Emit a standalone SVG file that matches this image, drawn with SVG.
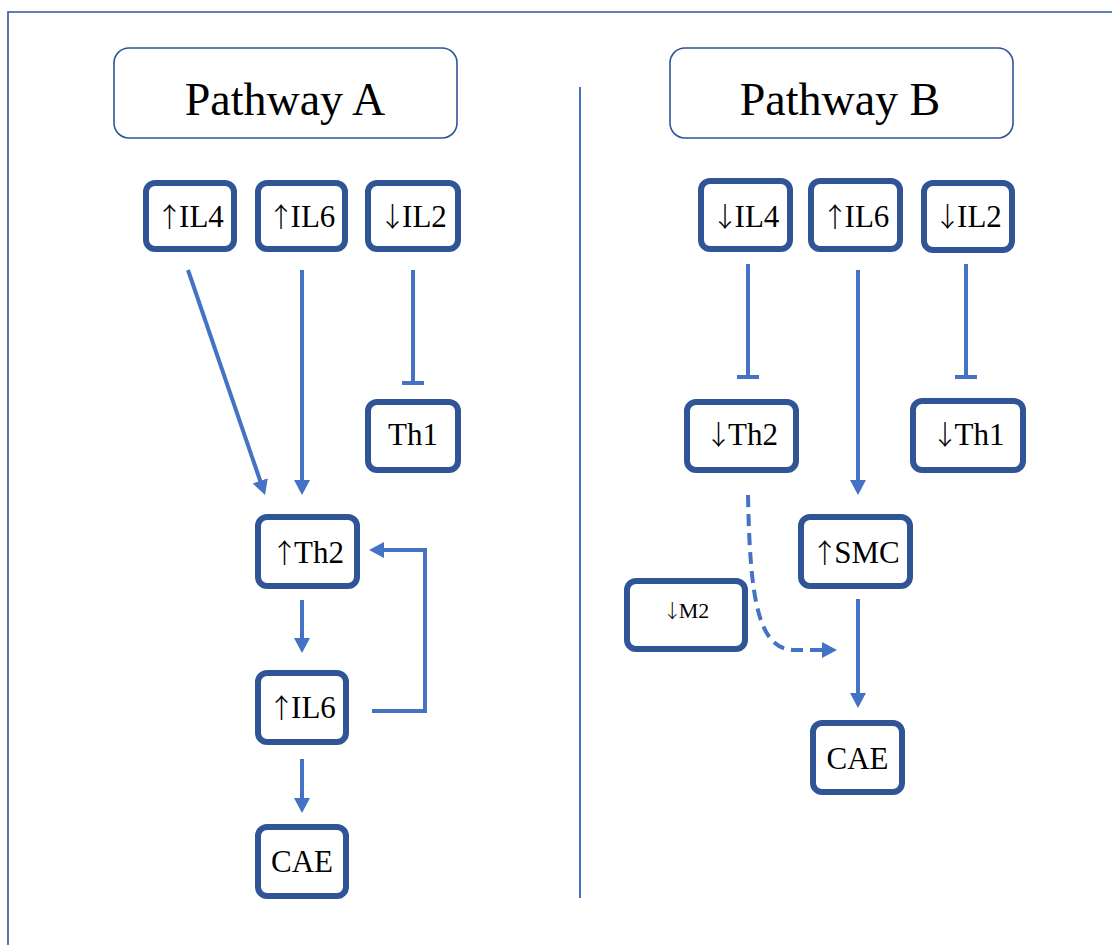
<svg xmlns="http://www.w3.org/2000/svg" width="1112" height="945" viewBox="0 0 1112 945">
<style>
.title{fill:#fff;stroke:#2f5597;stroke-width:1.6}
.tt{font-family:"Liberation Serif","Times New Roman",serif;font-size:46px;fill:#000;text-anchor:middle}
.node{fill:#fff;stroke:#2f5597;stroke-width:6}
.nt{font-family:"Liberation Serif","Times New Roman",serif;font-size:31px;fill:#000;text-anchor:middle}
.ar{font-family:"Noto Sans CJK SC","Noto Sans CJK JP",sans-serif;font-size:27px;font-weight:300;letter-spacing:-4px}
.sm{font-size:22px}
.sm .ar{font-size:19px;letter-spacing:-3px}
.ln{fill:none;stroke:#4472c4;stroke-width:4}
.arr{marker-end:url(#ah)}
.dash{stroke-dasharray:12 7}
</style>
<defs>
<marker id="ah" markerUnits="userSpaceOnUse" viewBox="0 0 15 16" refX="5" refY="8" markerWidth="15" markerHeight="16" orient="auto">
<path d="M0,0 L15,8 L0,16 z" fill="#4472c4"/>
</marker>
</defs>
<rect width="1112" height="945" fill="#fff"/>
<path d="M8,945 V12 H1112" fill="none" stroke="#2f5597" stroke-width="1.6"/>
<line x1="580" y1="87" x2="580" y2="898" stroke="#4472c4" stroke-width="2"/>

<g id="titleA"><rect class="title" x="114" y="48" width="343" height="90" rx="15"/><text class="tt" x="285" y="115">Pathway A</text></g>
<g id="titleB"><rect class="title" x="670" y="48" width="343" height="90" rx="15"/><text class="tt" x="840" y="115">Pathway B</text></g>

<g id="connectors">
<line class="ln arr" x1="188" y1="270" x2="261.8" y2="485.5"/>
<line class="ln arr" x1="302" y1="270" x2="302" y2="485"/>
<line class="ln" x1="413" y1="270" x2="413" y2="383"/>
<line class="ln" x1="402" y1="383" x2="424" y2="383"/>
<line class="ln arr" x1="302" y1="600" x2="302" y2="643"/>
<path class="ln arr" d="M372,711 H425 V550 H379"/>
<line class="ln arr" x1="302" y1="759" x2="302" y2="803"/>
<line class="ln" x1="748" y1="264" x2="748" y2="377"/>
<line class="ln" x1="737" y1="377" x2="759" y2="377"/>
<line class="ln arr" x1="858" y1="270" x2="858" y2="485"/>
<line class="ln" x1="966" y1="264" x2="966" y2="377"/>
<line class="ln" x1="955" y1="377" x2="977" y2="377"/>
<path class="ln dash arr" d="M748,495 C750,600 758,650 795,650 L827,650"/>
<line class="ln arr" x1="858" y1="599" x2="858" y2="698"/>
</g>

<g id="IL4a"><rect class="node" x="146" y="183" width="88" height="66" rx="9"/><text class="nt" x="190" y="227"><tspan class="ar">↑</tspan>IL4</text></g>
<g id="IL6a"><rect class="node" x="258" y="183" width="87" height="66" rx="9"/><text class="nt" x="301.5" y="227"><tspan class="ar">↑</tspan>IL6</text></g>
<g id="IL2a"><rect class="node" x="368" y="183" width="90" height="66" rx="9"/><text class="nt" x="413" y="227"><tspan class="ar">↓</tspan>IL2</text></g>
<g id="Th1a"><rect class="node" x="368" y="402" width="90" height="68" rx="9"/><text class="nt" x="413" y="445">Th1</text></g>
<g id="Th2a"><rect class="node" x="258" y="517" width="99" height="69" rx="9"/><text class="nt" x="307.5" y="563"><tspan class="ar">↑</tspan>Th2</text></g>
<g id="IL6b"><rect class="node" x="258" y="673" width="88" height="69" rx="9"/><text class="nt" x="302" y="718"><tspan class="ar">↑</tspan>IL6</text></g>
<g id="CAEa"><rect class="node" x="258" y="827" width="88" height="69" rx="9"/><text class="nt" x="302" y="872">CAE</text></g>

<g id="IL4b"><rect class="node" x="701" y="181" width="89" height="68" rx="9"/><text class="nt" x="745.5" y="227"><tspan class="ar">↓</tspan>IL4</text></g>
<g id="IL6c"><rect class="node" x="811" y="181" width="89" height="68" rx="9"/><text class="nt" x="855.5" y="227"><tspan class="ar">↑</tspan>IL6</text></g>
<g id="IL2b"><rect class="node" x="924" y="183" width="88" height="67" rx="9"/><text class="nt" x="968" y="227"><tspan class="ar">↓</tspan>IL2</text></g>
<g id="Th2b"><rect class="node" x="687" y="402" width="109" height="68" rx="9"/><text class="nt" x="741.5" y="445"><tspan class="ar">↓</tspan>Th2</text></g>
<g id="Th1b"><rect class="node" x="913" y="401" width="110" height="69" rx="9"/><text class="nt" x="968" y="445"><tspan class="ar">↓</tspan>Th1</text></g>
<g id="SMC"><rect class="node" x="801" y="517" width="109" height="69" rx="9"/><text class="nt" x="855.5" y="563"><tspan class="ar">↑</tspan>SMC</text></g>
<g id="M2"><rect class="node" x="627" y="581" width="118" height="68" rx="9"/><text class="nt sm" x="686" y="618"><tspan class="ar">↓</tspan>M2</text></g>
<g id="CAEb"><rect class="node" x="813" y="723" width="89" height="69" rx="9"/><text class="nt" x="857.5" y="769">CAE</text></g>
</svg>
